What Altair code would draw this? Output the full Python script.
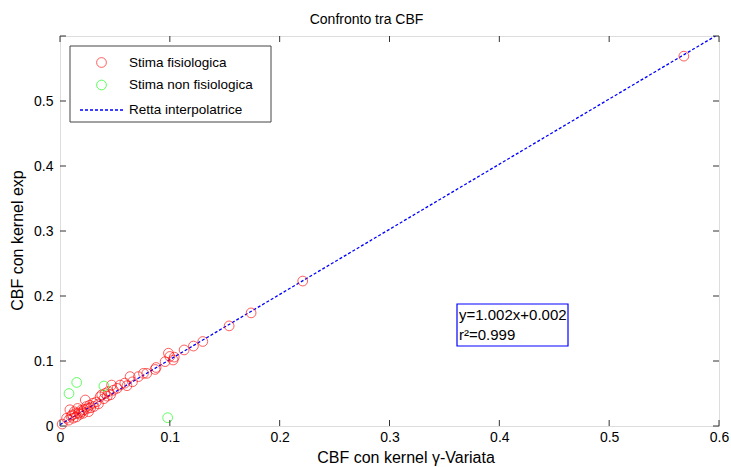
import altair as alt
import pandas as pd

# ---- data ----
red_x = [0.002, 0.006, 0.008, 0.009, 0.010, 0.011, 0.012, 0.013, 0.014, 0.015,
         0.016, 0.017, 0.018, 0.019, 0.020, 0.021, 0.022, 0.023, 0.024, 0.025,
         0.026, 0.027, 0.028, 0.030, 0.031, 0.033, 0.035, 0.0365, 0.038, 0.040,
         0.041, 0.043, 0.044, 0.046, 0.047, 0.0486, 0.052, 0.0547, 0.059, 0.061,
         0.0638, 0.066, 0.0714, 0.076, 0.079, 0.0866, 0.0875, 0.0957, 0.0987, 0.100,
         0.103, 0.104, 0.113, 0.1215, 0.130, 0.154, 0.174, 0.221, 0.568]
red_y = [0.003, 0.012, 0.009, 0.025, 0.015, 0.017, 0.012, 0.022, 0.019, 0.014,
         0.027, 0.020, 0.018, 0.024, 0.022, 0.0195, 0.025, 0.040, 0.030, 0.027,
         0.022, 0.032, 0.028, 0.035, 0.030, 0.037, 0.034, 0.045, 0.048, 0.042,
         0.050, 0.046, 0.053, 0.048, 0.063, 0.055, 0.058, 0.063, 0.066, 0.062,
         0.076, 0.068, 0.076, 0.081, 0.081, 0.087, 0.090, 0.099, 0.112, 0.107,
         0.1015, 0.106, 0.117, 0.123, 0.130, 0.154, 0.174, 0.223, 0.569]
green_x = [0.0082, 0.0152, 0.040, 0.098]
green_y = [0.050, 0.067, 0.0615, 0.0128]
line_x = [0.0, 0.6]
line_y = [0.002, 0.6032]
tick_vals = [0.0, 0.1, 0.2, 0.3, 0.4, 0.5, 0.6]
legend_labels = ["Stima fisiologica", "Stima non fisiologica", "Retta interpolatrice"]
annot_lines = ["y=1.002x+0.002", "r²=0.999"]

W, H = 659, 390
FONT = "Liberation Sans"
xs = alt.Scale(domain=[0, 0.6], nice=False, zero=False)
ys = alt.Scale(domain=[0, 0.6], nice=False, zero=False)

red_df = pd.DataFrame({"x": red_x, "y": red_y})
green_df = pd.DataFrame({"x": green_x, "y": green_y})
line_df = pd.DataFrame({"x": line_x, "y": line_y})
tick_df = pd.DataFrame({"t": tick_vals})
one = pd.DataFrame({"a": [0]})

xaxis = alt.Axis(values=tick_vals, format="~g", ticks=False, domain=False, grid=False,
                 labelFlush=False, labelOverlap=False,
                 labelFont=FONT, labelFontSize=14, labelColor="#000", labelPadding=4,
                 title="CBF con kernel γ-Variata", titleFont=FONT, titleFontSize=16,
                 titleFontWeight="normal", titleColor="#000", titlePadding=5,
                 titleX=W / 2 + 16, titleAlign="center")
yaxis = alt.Axis(values=tick_vals[:-1], format="~g", ticks=False, domain=False, grid=False,
                 labelFlush=False, labelOverlap=False,
                 labelFont=FONT, labelFontSize=14, labelColor="#000", labelPadding=7,
                 title="CBF con kernel exp", titleFont=FONT, titleFontSize=16,
                 titleFontWeight="normal", titleColor="#000", titlePadding=8,
                 titleY=H / 2 + 9, titleAlign="center")

line = alt.Chart(line_df).mark_line(color="#0000ff", strokeDash=[3, 2], strokeWidth=1.3, clip=True).encode(
    x=alt.X("x:Q", scale=xs, axis=xaxis),
    y=alt.Y("y:Q", scale=ys, axis=yaxis),
)
red = alt.Chart(red_df).mark_point(shape="circle", color="#ff0000", size=95, strokeWidth=0.9, filled=False).encode(
    x=alt.X("x:Q", scale=xs), y=alt.Y("y:Q", scale=ys))
green = alt.Chart(green_df).mark_point(shape="circle", color="#00ff00", size=95, strokeWidth=0.9, filled=False).encode(
    x=alt.X("x:Q", scale=xs), y=alt.Y("y:Q", scale=ys))

TL = 6
tb = alt.Chart(tick_df).mark_rule(color="#333", strokeWidth=1).encode(
    x=alt.X("t:Q", scale=xs), y=alt.value(H), y2=alt.value(H - TL))
tt = alt.Chart(tick_df).mark_rule(color="#333", strokeWidth=1).encode(
    x=alt.X("t:Q", scale=xs), y=alt.value(0), y2=alt.value(TL))
tl = alt.Chart(tick_df).mark_rule(color="#333", strokeWidth=1).encode(
    y=alt.Y("t:Q", scale=ys), x=alt.value(0), x2=alt.value(TL))
tr = alt.Chart(tick_df).mark_rule(color="#333", strokeWidth=1).encode(
    y=alt.Y("t:Q", scale=ys), x=alt.value(W), x2=alt.value(W - TL))

# legend box
leg_box = alt.Chart(one).mark_rect(fill="white", stroke="#444", strokeWidth=1).encode(
    x=alt.value(10), x2=alt.value(211), y=alt.value(10), y2=alt.value(86))
leg_r = alt.Chart(one).mark_point(shape="circle", color="#ff0000", size=95, strokeWidth=0.9).encode(
    x=alt.value(41.5), y=alt.value(26.5))
leg_g = alt.Chart(one).mark_point(shape="circle", color="#00ff00", size=95, strokeWidth=0.9).encode(
    x=alt.value(41.5), y=alt.value(49))
leg_l = alt.Chart(one).mark_rule(color="#0000ff", strokeDash=[3, 2], strokeWidth=1.3).encode(
    x=alt.value(20), x2=alt.value(63), y=alt.value(74))
leg_texts = [
    alt.Chart(one).mark_text(align="left", baseline="middle", font=FONT, fontSize=13.5, color="#000").encode(
        x=alt.value(69), y=alt.value(yy), text=alt.value(lbl))
    for lbl, yy in zip(legend_labels, [26.5, 49, 73.5])
]

# annotation box
ann_box = alt.Chart(one).mark_rect(fill="white", stroke="#0000ff", strokeWidth=1.2).encode(
    x=alt.value(397), x2=alt.value(508), y=alt.value(268), y2=alt.value(310))
ann_texts = [
    alt.Chart(one).mark_text(align="left", baseline="middle", font=FONT, fontSize=15, color="#000").encode(
        x=alt.value(399), y=alt.value(yy), text=alt.value(t))
    for t, yy in zip(annot_lines, [279, 299])
]

chart = alt.layer(
    line, red, green, tb, tt, tl, tr, ann_box, *ann_texts, leg_box, leg_r, leg_g, leg_l, *leg_texts
).properties(
    width=W, height=H,
    title=alt.TitleParams("Confronto tra CBF", font=FONT, fontSize=14, fontWeight="normal",
                          color="#000", anchor="middle", offset=9, dx=-23),
    autosize=alt.AutoSizeParams(type="none"),
    padding={"left": 60, "top": 36, "right": 12, "bottom": 41},
).configure_view(stroke="#444", strokeWidth=1).configure(background="white")

chart.save("out.html", embed_options={"renderer": "svg", "actions": False})
